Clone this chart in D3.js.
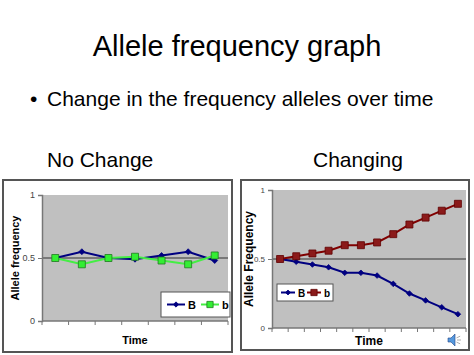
<!DOCTYPE html>
<html><head><meta charset="utf-8">
<script src="https://cdn.jsdelivr.net/npm/d3@7/dist/d3.min.js"></script>
<style>body{margin:0;background:#fff}svg{display:block}</style>
</head><body>
<svg id="c" width="474" height="355"></svg>
<script>
// Data
const timesLeft = [1,2,3,4,5,6,7];
const leftB = [0.5, 0.55, 0.5, 0.49, 0.52, 0.55, 0.48];
const leftb = [0.5, 0.45, 0.5, 0.51, 0.48, 0.45, 0.52];
const timesRight = [1,2,3,4,5,6,7,8,9,10,11,12];
const rightB = [0.5, 0.48, 0.46, 0.44, 0.4, 0.4, 0.38, 0.32, 0.25, 0.2, 0.15, 0.1];
const rightb = [0.5, 0.52, 0.54, 0.56, 0.6, 0.6, 0.62, 0.68, 0.75, 0.8, 0.85, 0.9];
const yTicks = [0, 0.5, 1];
const seriesNames = ["B", "b"];

const svg = d3.select("#c");
const F = "'Liberation Sans', Arial, sans-serif";
const diamondSym = d3.symbolDiamond2 || d3.symbolDiamond;

svg.append("text").attr("x", 237).attr("y", 56).attr("text-anchor", "middle")
  .attr("font-family", F).attr("font-size", 29).text("Allele frequency graph");
svg.append("text").attr("x", 30).attr("y", 106).attr("font-family", F).attr("font-size", 21).text("•");
svg.append("text").attr("x", 47).attr("y", 106).attr("font-family", F).attr("font-size", 21)
  .text("Change in the frequency alleles over time");
svg.append("text").attr("x", 47).attr("y", 167).attr("font-family", F).attr("font-size", 21).text("No Change");
svg.append("text").attr("x", 313).attr("y", 167).attr("font-family", F).attr("font-size", 21).text("Changing");

function panel(o) {
  const g = svg.append("g");
  g.append("rect").attr("x", o.box[0]).attr("y", o.box[1]).attr("width", o.box[2]).attr("height", o.box[3])
    .attr("fill", "#fff").attr("stroke", "#555").attr("stroke-width", 2);
  const x = d3.scaleBand().domain(o.times).range([o.pl, o.pr]);
  const y = d3.scaleLinear().domain([0, 1]).range([o.pb, o.pt]);
  g.append("rect").attr("x", o.pl).attr("y", o.pt).attr("width", o.pr - o.pl).attr("height", o.pb - o.pt)
    .attr("fill", "#c0c0c0");
  g.append("line").attr("x1", o.pl).attr("x2", o.pr).attr("y1", y(0.5)).attr("y2", y(0.5))
    .attr("stroke", "#333").attr("stroke-width", 1);
  const ya = g.append("g").attr("transform", `translate(${o.pl},0)`)
    .call(d3.axisLeft(y).tickValues(yTicks).tickFormat(d => d === 0.5 ? "0.5" : d3.format("d")(d)).tickSize(4).tickPadding(3));
  ya.select(".domain").attr("stroke", "#777").attr("stroke-width", 1.5);
  ya.selectAll(".tick line").attr("stroke", "#777");
  ya.selectAll("text").attr("font-family", F).attr("font-size", o.tickFont).attr("fill", "#444");
  const xa = g.append("g").attr("transform", `translate(0,${o.pb})`);
  xa.append("line").attr("x1", o.pl).attr("x2", o.pr).attr("y1", 0).attr("y2", 0).attr("stroke", "#777").attr("stroke-width", 1.5);
  const bounds = o.times.map(t => x(t)).concat([x(o.times[o.times.length - 1]) + x.bandwidth()]);
  xa.selectAll("line.t").data(bounds).join("line").attr("class", "t")
    .attr("x1", d => d).attr("x2", d => d).attr("y1", 0).attr("y2", 4).attr("stroke", "#777");
  g.append("text").attr("transform", `translate(${o.ylabX},${(o.pt + o.pb) / 2}) rotate(-90)`)
    .attr("text-anchor", "middle").attr("font-family", F).attr("font-weight", "bold").attr("font-size", o.labFont)
    .text(o.ylab);
  g.append("text").attr("x", (o.pl + o.pr) / 2).attr("y", o.xlabY).attr("text-anchor", "middle")
    .attr("font-family", F).attr("font-weight", "bold").attr("font-size", o.labFont).text("Time");
  const cx = t => x(t) + x.bandwidth() / 2;
  const line = d3.line().x((d, i) => cx(o.times[i])).y(d => y(d));
  const drawSeries = (vals, col, fill, stroke, sym, size, sw) => {
    g.append("path").datum(vals).attr("d", line).attr("fill", "none").attr("stroke", col).attr("stroke-width", sw);
    g.selectAll(null).data(vals).join("path")
      .attr("transform", (d, i) => `translate(${cx(o.times[i])},${y(d)})`)
      .attr("d", d3.symbol().type(sym).size(size))
      .attr("fill", fill).attr("stroke", stroke).attr("stroke-width", 0.8);
  };
  drawSeries(o.B, "#000080", "#000080", "#000080", diamondSym, o.dSize, 2);
  drawSeries(o.b, o.bLine, o.bFill, o.bStroke, d3.symbolSquare, o.sSize, 2);
  const L = o.leg;
  g.append("rect").attr("x", L[0]).attr("y", L[1]).attr("width", L[2]).attr("height", L[3])
    .attr("fill", "#fff").attr("stroke", "#555").attr("stroke-width", 1);
  const ly = L[1] + L[3] / 2;
  const items = [
    {name: seriesNames[0], col: "#000080", fill: "#000080", stroke: "#000080", sym: diamondSym, size: o.dSize},
    {name: seriesNames[1], col: o.bLine, fill: o.bFill, stroke: o.bStroke, sym: d3.symbolSquare, size: o.sSize}
  ];
  items.forEach((it, i) => {
    const x0 = L[0] + o.legPad + i * o.legStep;
    g.append("line").attr("x1", x0).attr("x2", x0 + o.legLine).attr("y1", ly).attr("y2", ly)
      .attr("stroke", it.col).attr("stroke-width", 2);
    g.append("path").attr("transform", `translate(${x0 + o.legLine / 2},${ly})`)
      .attr("d", d3.symbol().type(it.sym).size(it.size * 0.8)).attr("fill", it.fill).attr("stroke", it.stroke).attr("stroke-width", 0.8);
    g.append("text").attr("x", x0 + o.legLine + 3).attr("y", ly + 4).attr("font-family", F)
      .attr("font-weight", "bold").attr("font-size", o.legFont).text(it.name);
  });
}

panel({
  box: [3, 180, 229, 172], pl: 42, pr: 228, pt: 195, pb: 321, times: timesLeft, B: leftB, b: leftb,
  ylab: "Allele frequency", ylabX: 19, xlabY: 344, tickFont: 9, labFont: 11,
  bLine: "#44ee44", bFill: "#33ee33", bStroke: "#1f7a1f", dSize: 22, sSize: 49,
  leg: [161, 292, 69, 25], legPad: 6, legStep: 34, legLine: 18, legFont: 11
});
panel({
  box: [241, 180, 228, 170], pl: 272, pr: 466, pt: 190, pb: 328, times: timesRight, B: rightB, b: rightb,
  ylab: "Allele Frequency", ylabX: 253, xlabY: 345, tickFont: 8, labFont: 12,
  bLine: "#800000", bFill: "#8b1a1a", bStroke: "#600000", dSize: 20, sSize: 49,
  leg: [277, 284, 56, 17], legPad: 4, legStep: 26, legLine: 14, legFont: 10
});

// speaker icon
const sp = svg.append("g").attr("transform", "translate(452,340)");
sp.append("path").attr("d", "M-4,-2 L-1,-2 L3,-6 L3,6 L-1,2 L-4,2 Z").attr("fill", "#5599dd").attr("stroke", "#224488").attr("stroke-width", 0.6);
[-25, 0, 25].forEach(a => {
  const ang = a * Math.PI / 180;
  sp.append("line").attr("x1", 5 * Math.cos(ang)).attr("y1", 5 * Math.sin(ang))
    .attr("x2", 9 * Math.cos(ang)).attr("y2", 9 * Math.sin(ang)).attr("stroke", "#999").attr("stroke-width", 0.8);
});
</script>
</body></html>
